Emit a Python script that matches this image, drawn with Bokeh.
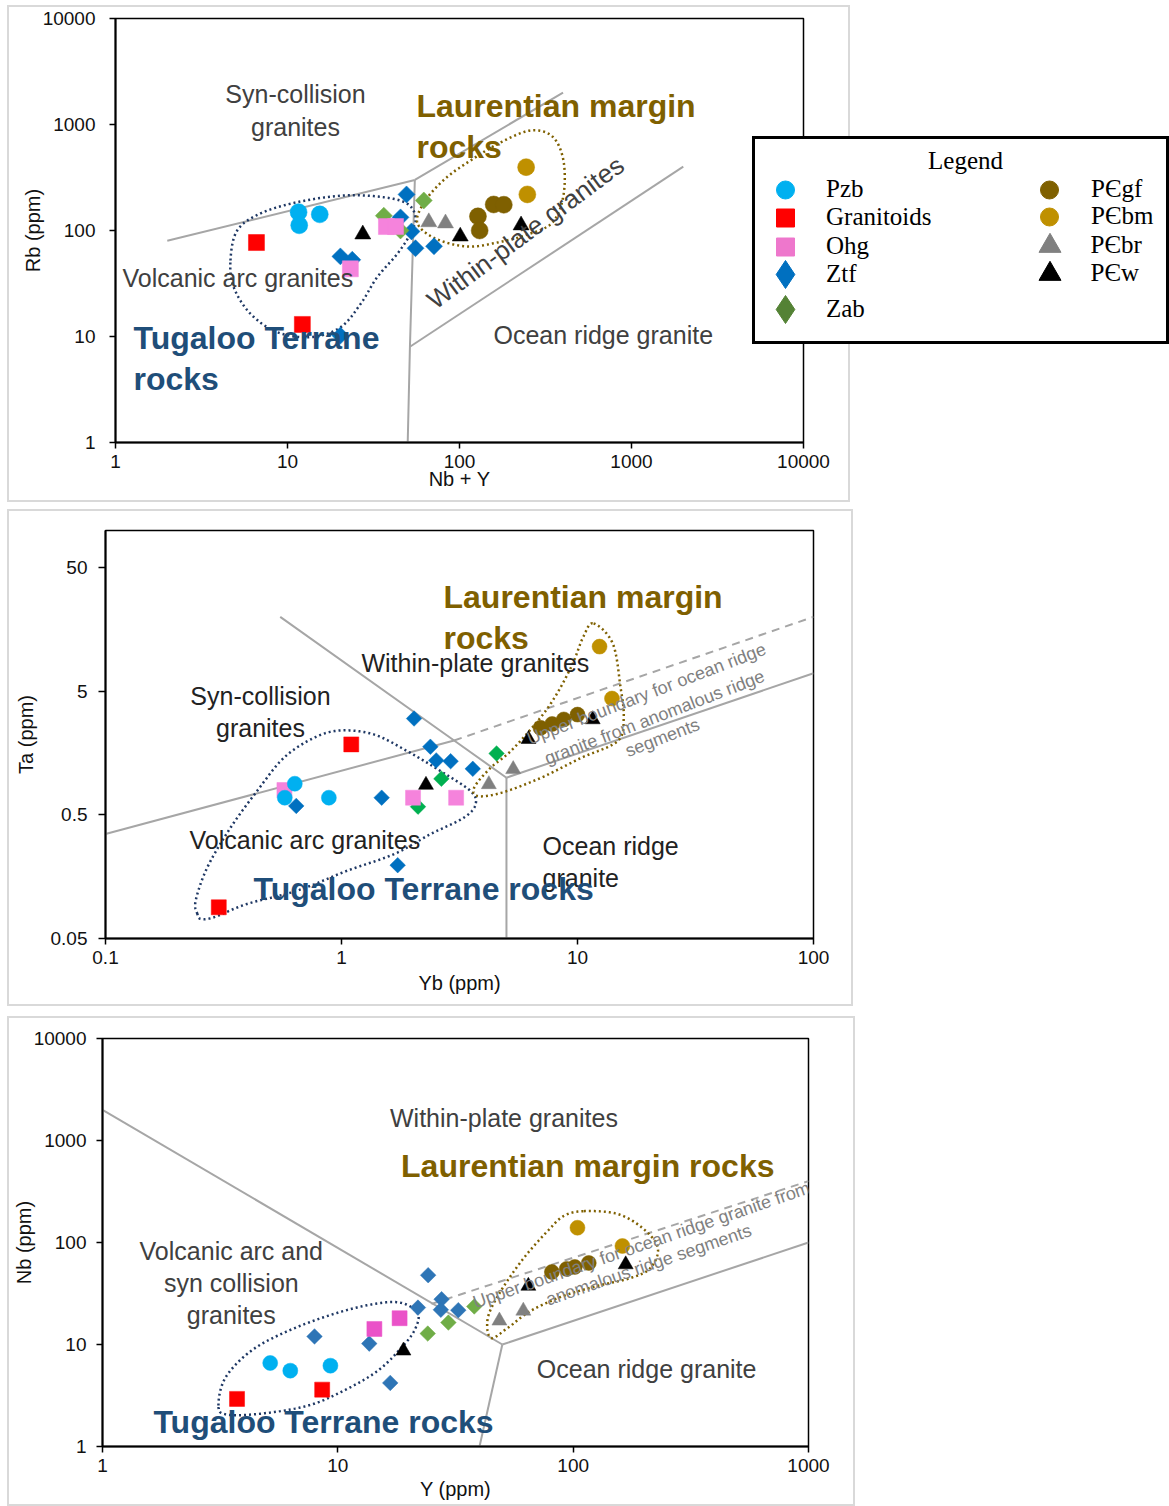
import numpy as np
from bokeh.plotting import figure
from bokeh.models import Range1d, FixedTicker, Label, Legend, LegendItem
from bokeh.core.properties import value
from bokeh.embed import file_html
from bokeh.resources import INLINE

# ---------------- data ----------------
SERIES = ["Pzb", "Granitoids", "Ohg", "Ztf", "Zab", "PЄgf", "PЄbm", "PЄbr", "PЄw"]

# Panel 1 : Rb (ppm) vs Nb + Y
P1_PZB_X = [11.6, 15.4, 11.7]
P1_PZB_Y = [149, 142, 112]
P1_GRAN_X = [6.6, 12.2]
P1_GRAN_Y = [77, 13]
P1_OHG_X = [37.6, 42.5, 23.2]
P1_OHG_Y = [109, 109, 43.5]
P1_ZTF_X = [49.2, 45.4, 52.6, 20.3, 23.8, 55.5, 71.1, 20.3]
P1_ZTF_Y = [219, 133, 98, 57, 53, 68, 71, 10.2]
P1_ZAB_X = [36.3, 62.0, 45.4]
P1_ZAB_Y = [138, 192, 100]
P1_GF_X = [128, 131, 158, 181]
P1_GF_Y = [136, 100, 176, 175]
P1_BM_X = [244, 248]
P1_BM_Y = [396, 219]
P1_BR_X = [66.3, 82.9]
P1_BR_Y = [120, 117]
P1_W_X = [27.4, 101, 228]
P1_W_Y = [92, 88, 112]

# Panel 2 : Ta (ppm) vs Yb (ppm)
P2_PZB_X = [0.634, 0.575, 0.884]
P2_PZB_Y = [0.894, 0.689, 0.689]
P2_GRAN_X = [1.10, 0.302]
P2_GRAN_Y = [1.86, 0.0894]
P2_OHG_X = [0.573, 2.01, 3.06]
P2_OHG_Y = [0.795, 0.689, 0.689]
P2_ZTF_X = [2.03, 2.38, 2.52, 2.90, 3.60, 1.48, 0.643, 1.73]
P2_ZTF_Y = [3.01, 1.78, 1.38, 1.36, 1.18, 0.689, 0.591, 0.196]
P2_ZAB_X = [4.54, 2.65, 2.11]
P2_ZAB_Y = [1.57, 0.98, 0.583]
P2_GF_X = [6.97, 7.81, 8.75, 10.0]
P2_GF_Y = [2.53, 2.72, 2.96, 3.24]
P2_BM_X = [12.4, 14.0]
P2_BM_Y = [11.5, 4.37]
P2_BR_X = [4.21, 5.34]
P2_BR_Y = [0.884, 1.17]
P2_W_X = [2.28, 6.20, 11.6]
P2_W_Y = [0.873, 2.05, 2.96]

# Panel 3 : Nb (ppm) vs Y (ppm)
P3_PZB_X = [5.16, 6.28, 9.30]
P3_PZB_Y = [6.59, 5.54, 6.20]
P3_GRAN_X = [3.73, 8.58]
P3_GRAN_Y = [2.93, 3.61]
P3_OHG_X = [14.3, 18.3]
P3_OHG_Y = [14.2, 18.1]
P3_ZTF_X = [24.2, 27.6, 21.9, 27.4, 32.5, 7.96, 13.6, 16.7]
P3_ZTF_Y = [47.8, 27.8, 23.0, 21.9, 21.7, 12.0, 10.2, 4.20]
P3_ZAB_X = [38.0, 29.5, 24.1]
P3_ZAB_Y = [23.6, 16.4, 12.8]
P3_GF_X = [81.2, 93.9, 101.6, 116.5]
P3_GF_Y = [51.4, 55.1, 57.6, 63.0]
P3_BM_X = [104.3, 161.9]
P3_BM_Y = [139.6, 92.4]
P3_BR_X = [48.6, 61.4]
P3_BR_Y = [17.1, 21.4]
P3_W_X = [19.0, 64.5, 167.2]
P3_W_Y = [8.69, 37.5, 60.9]

# tick values / labels
P1_TICKS = [1, 10, 100, 1000, 10000]
P1_TICK_LABELS = ["1", "10", "100", "1000", "10000"]
P2_XTICKS = [0.1, 1, 10, 100]
P2_XTICK_LABELS = ["0.1", "1", "10", "100"]
P2_YTICKS = [0.05, 0.5, 5, 50]
P2_YTICK_LABELS = ["0.05", "0.5", "5", "50"]
P3_XTICKS = [1, 10, 100, 1000]
P3_XTICK_LABELS = ["1", "10", "100", "1000"]
P3_YTICKS = [1, 10, 100, 1000, 10000]
P3_YTICK_LABELS = ["1", "10", "100", "1000", "10000"]

# discrimination-diagram boundaries (Pearce et al.), data coordinates
P1_BOUNDS = [([2, 55], [80, 300]), ([55, 400], [300, 2000]),
             ([55, 51.5, 50], [300, 8, 1]), ([51.5, 2000], [8, 400])]
P2_BOUNDS = [([0.55, 3, 5], [20, 2, 1]), ([0.1, 3], [0.35, 2]),
             ([5, 100], [1, 7]), ([5, 5], [0.05, 1])]
P2_DASH = ([3, 100], [2, 20])
P3_BOUNDS = [([1, 50], [2000, 10]), ([50, 1000], [10, 100]), ([50, 40], [10, 1])]
P3_DASH = ([25, 1000], [25, 400])

# hand-drawn dotted outlines (control points, data coordinates)
P1_TUG = ([4.66, 5.10, 6.97, 11.4, 21.2, 36.2, 49.7, 55.5, 51.9, 43.5, 33.2, 26.6, 20.3, 13.6, 8.71, 6.09, 4.87],
          [52.1, 100, 145, 185, 214, 206, 179, 133, 93.7, 60.3, 36.2, 20.3, 12.2, 9.85, 11.0, 16.4, 29.2])
P1_LAU = ([56.8, 63.4, 82.9, 116, 173, 259, 347, 402, 402, 347, 249, 166, 111, 72.5],
          [119, 192, 310, 458, 676, 878, 770, 458, 214, 119, 91.7, 77.1, 70.6, 84])
P2_TUG = ([0.245, 0.241, 0.270, 0.339, 0.439, 0.570, 0.763, 0.990, 1.37, 1.90, 2.63, 3.52, 3.70, 3.30,
           2.38, 1.67, 1.06, 0.649, 0.398, 0.288, 0.253],
          [0.0791, 0.101, 0.188, 0.395, 0.781, 1.45, 2.10, 2.41, 2.24, 1.64, 1.13, 0.781, 0.610, 0.475,
           0.349, 0.241, 0.177, 0.122, 0.0952, 0.0743, 0.0721])
P2_LAU = ([11.7, 14.1, 15.2, 15.7, 14.8, 10.3, 6.97, 4.72, 3.77, 3.66, 4.28, 5.36, 7.46, 9.34, 10.6],
          [17.7, 12.2, 5.48, 3.08, 1.98, 1.44, 0.994, 0.752, 0.711, 0.841, 1.20, 1.73, 3.64, 7.66, 13.9])
P3_TUG = ([3.11, 3.33, 4.29, 6.15, 9.65, 14.3, 18.6, 21.9, 21.1, 18.6, 14.8, 10.6, 7.48, 4.73, 3.36],
          [2.52, 4.73, 8.69, 13.6, 20.0, 25.0, 25.6, 20.0, 13.6, 9.29, 5.54, 3.53, 2.52, 2.10, 2.06])
P3_LAU = ([111, 155, 199, 229, 213, 176, 127, 91.2, 66.1, 52.8, 44.7, 43.4, 49.3, 61.7, 78.0, 91.2],
          [203, 190, 136, 88.3, 56.3, 45.0, 37.5, 30.0, 21.4, 14.6, 11.6, 18.3, 33.5, 70.5, 130, 182])

# ---------------- styles ----------------
MARKER = {"Pzb": "circle", "Granitoids": "square", "Ohg": "square", "Ztf": "square", "Zab": "square",
          "PЄgf": "circle", "PЄbm": "circle", "PЄbr": "triangle", "PЄw": "triangle"}
LEGEND_MARKER = dict(MARKER, Ztf="diamond", Zab="diamond")
BASE_COLOR = {"Pzb": "#00B0F0", "Granitoids": "#FF0000", "Ohg": "#F583DC", "Ztf": "#0070C0",
              "Zab": "#70AD47", "PЄgf": "#7F6000", "PЄbm": "#BF9000", "PЄbr": "#808080", "PЄw": "#000000"}
P2_COLOR = dict(BASE_COLOR, Zab="#00B050")
P3_COLOR = dict(BASE_COLOR, Ztf="#2E75B6", Ohg="#EA52C8")
LEGEND_COLOR = dict(BASE_COLOR, Ohg="#EE77CC", Zab="#548235")
DIAMONDS = {"Ztf", "Zab"}
DRAW_ORDER = ["Ztf", "Zab", "Granitoids", "Ohg", "Pzb", "PЄbr", "PЄgf", "PЄbm", "PЄw"]
SANS = "Liberation Sans"
SERIF = "Liberation Serif"
GREY_LINE = "#A6A6A6"
REGION = "#404040"
LAUR = "#7F6000"
TUG = "#1F4E79"
PANEL_BOX = "2px solid #D9D9D9"


def make_fig(width, height, left, right, top, bottom, xr, yr, margin):
    p = figure(width=width, height=height, x_axis_type="log", y_axis_type="log",
               x_range=Range1d(*xr), y_range=Range1d(*yr), output_backend="svg",
               toolbar_location=None, min_border_left=left, min_border_right=right,
               min_border_top=top, min_border_bottom=bottom, margin=margin,
               styles={"outline": PANEL_BOX})
    p.xgrid.visible = False
    p.ygrid.visible = False
    p.background_fill_color = "white"
    p.border_fill_color = "white"
    p.outline_line_color = "black"
    p.outline_line_width = 1.5
    for ax in (p.xaxis[0], p.yaxis[0]):
        ax.axis_line_color = "black"
        ax.axis_line_width = 2
        ax.major_tick_in = 0
        ax.major_tick_out = 6
        ax.major_tick_line_width = 1.5
        ax.major_tick_line_color = "black"
        ax.minor_tick_line_color = None
        ax.major_label_text_font = SANS
        ax.major_label_text_font_size = "19px"
        ax.major_label_text_color = "#111111"
        ax.axis_label_text_font = SANS
        ax.axis_label_text_font_size = "20px"
        ax.axis_label_text_font_style = "normal"
        ax.axis_label_text_color = "#111111"
    return p


def set_ticks(axis, ticks, labels):
    axis.ticker = FixedTicker(ticks=ticks)
    axis.major_label_overrides = {t: l for t, l in zip(ticks, labels)}


def closed_spline(xs, ys, n=24):
    lx, ly = np.log10(xs), np.log10(ys)
    N = len(lx)
    ox, oy = [], []
    for i in range(N):
        p0, p1, p2, p3 = (i - 1) % N, i, (i + 1) % N, (i + 2) % N
        for t in np.linspace(0, 1, n, endpoint=False):
            t2, t3 = t * t, t * t * t
            for arr, out in ((lx, ox), (ly, oy)):
                out.append(0.5 * (2 * arr[p1] + (-arr[p0] + arr[p2]) * t
                                  + (2 * arr[p0] - 5 * arr[p1] + 4 * arr[p2] - arr[p3]) * t2
                                  + (-arr[p0] + 3 * arr[p1] - 3 * arr[p2] + arr[p3]) * t3))
    ox.append(ox[0])
    oy.append(oy[0])
    return 10 ** np.array(ox), 10 ** np.array(oy)


def outline(p, pts, color):
    sx, sy = closed_spline(*pts)
    p.line(sx, sy, line_color=color, line_width=2.5, line_dash="2 3")


def bounds(p, lines, dash=None):
    for xs, ys in lines:
        p.line(xs, ys, line_color=GREY_LINE, line_width=2)
    if dash is not None:
        p.line(dash[0], dash[1], line_color=GREY_LINE, line_width=2, line_dash="8 6")


def txt(p, x, y, text, size, color, bold=False, align="left", angle=0.0, font=SANS):
    p.add_layout(Label(x=x, y=y, text=text, text_font=font, text_font_size=f"{size}px",
                       text_color=color, text_font_style="bold" if bold else "normal",
                       text_align=align, text_baseline="middle", angle=angle, angle_units="deg"))


def points(p, data, sizes, colors):
    rends = {}
    for s in DRAW_ORDER:
        xs, ys = data[s]
        marker = MARKER[s]
        if s in DIAMONDS:
            size, ang = sizes["diamond"], np.pi / 4
        else:
            size, ang = sizes[marker], 0.0
        rends[s] = p.scatter(xs, ys, marker=marker, size=size, angle=ang,
                             fill_color=colors[s], line_color=colors[s], line_width=0.5)
    return rends


P1_DATA = {"Pzb": (P1_PZB_X, P1_PZB_Y), "Granitoids": (P1_GRAN_X, P1_GRAN_Y), "Ohg": (P1_OHG_X, P1_OHG_Y),
           "Ztf": (P1_ZTF_X, P1_ZTF_Y), "Zab": (P1_ZAB_X, P1_ZAB_Y), "PЄgf": (P1_GF_X, P1_GF_Y),
           "PЄbm": (P1_BM_X, P1_BM_Y), "PЄbr": (P1_BR_X, P1_BR_Y), "PЄw": (P1_W_X, P1_W_Y)}
P2_DATA = {"Pzb": (P2_PZB_X, P2_PZB_Y), "Granitoids": (P2_GRAN_X, P2_GRAN_Y), "Ohg": (P2_OHG_X, P2_OHG_Y),
           "Ztf": (P2_ZTF_X, P2_ZTF_Y), "Zab": (P2_ZAB_X, P2_ZAB_Y), "PЄgf": (P2_GF_X, P2_GF_Y),
           "PЄbm": (P2_BM_X, P2_BM_Y), "PЄbr": (P2_BR_X, P2_BR_Y), "PЄw": (P2_W_X, P2_W_Y)}
P3_DATA = {"Pzb": (P3_PZB_X, P3_PZB_Y), "Granitoids": (P3_GRAN_X, P3_GRAN_Y), "Ohg": (P3_OHG_X, P3_OHG_Y),
           "Ztf": (P3_ZTF_X, P3_ZTF_Y), "Zab": (P3_ZAB_X, P3_ZAB_Y), "PЄgf": (P3_GF_X, P3_GF_Y),
           "PЄbm": (P3_BM_X, P3_BM_Y), "PЄbr": (P3_BR_X, P3_BR_Y), "PЄw": (P3_W_X, P3_W_Y)}

# ---------------- panel 1 ----------------
p1 = make_fig(839, 493, 106, 45, 11, 58, (1, 10000), (1, 10000), (7, 0, 0, 9))
set_ticks(p1.xaxis[0], P1_TICKS, P1_TICK_LABELS)
set_ticks(p1.yaxis[0], P1_TICKS, P1_TICK_LABELS)
p1.xaxis.axis_label = "Nb + Y"
p1.yaxis.axis_label = "Rb (ppm)"
p1.xaxis.major_label_standoff = 6
p1.xaxis.axis_label_standoff = -3
p1.yaxis.major_label_standoff = 14
p1.yaxis.axis_label_standoff = -4
bounds(p1, P1_BOUNDS)
outline(p1, P1_TUG, "#1F3864")
outline(p1, P1_LAU, LAUR)
points(p1, P1_DATA, {"circle": 17, "square": 16, "diamond": 12, "triangle": 16}, BASE_COLOR)
txt(p1, 11.13, 1919, "Syn-collision", 25, REGION, align="center")
txt(p1, 11.13, 957, "granites", 25, REGION, align="center")
txt(p1, 56.2, 1479, "Laurentian margin", 32, LAUR, bold=True)
txt(p1, 56.2, 607, "rocks", 32, LAUR, bold=True)
txt(p1, 1.098, 36.0, "Volcanic arc granites", 25, REGION)
txt(p1, 1.272, 9.58, "Tugaloo Terrane", 32, TUG, bold=True)
txt(p1, 1.272, 3.93, "rocks", 32, TUG, bold=True)
txt(p1, 157.6, 10.44, "Ocean ridge granite", 25, REGION)
txt(p1, 242, 95.7, "Within-plate granites", 26, REGION, align="center", angle=36.5)

# ---------------- panel 2 ----------------
p2 = make_fig(842, 493, 96, 38, 19, 66, (0.1, 100), (0.05, 100), (11, 0, 0, 9))
set_ticks(p2.xaxis[0], P2_XTICKS, P2_XTICK_LABELS)
set_ticks(p2.yaxis[0], P2_YTICKS, P2_YTICK_LABELS)
p2.xaxis.axis_label = "Yb (ppm)"
p2.yaxis.axis_label = "Ta (ppm)"
p2.xaxis.major_label_standoff = 6
p2.xaxis.axis_label_standoff = 5
p2.yaxis.major_tick_out = 7
p2.yaxis.major_label_standoff = 11
p2.yaxis.axis_label_standoff = 11
bounds(p2, P2_BOUNDS, P2_DASH)
outline(p2, P2_TUG, "#1F3864")
outline(p2, P2_LAU, LAUR)
points(p2, P2_DATA, {"circle": 15, "square": 15, "diamond": 11, "triangle": 15}, P2_COLOR)
txt(p2, 2.705, 29.2, "Laurentian margin", 32, LAUR, bold=True)
txt(p2, 2.705, 13.62, "rocks", 32, LAUR, bold=True)
txt(p2, 1.215, 8.41, "Within-plate granites", 25, "#222222")
txt(p2, 0.4537, 4.56, "Syn-collision", 25, "#222222", align="center")
txt(p2, 0.4537, 2.51, "granites", 25, "#222222", align="center")
txt(p2, 0.227, 0.314, "Volcanic arc granites", 25, "#222222")
txt(p2, 7.11, 0.281, "Ocean ridge", 25, "#222222")
txt(p2, 7.11, 0.155, "granite", 25, "#222222")
txt(p2, 0.4238, 0.1265, "Tugaloo Terrane rocks", 32, TUG, bold=True)
txt(p2, 19.6, 4.77, "Upper boundary for ocean ridge", 18, "#808080", align="center", angle=21)
txt(p2, 21.2, 3.08, "granite from anomalous ridge", 18, "#808080", align="center", angle=21)
txt(p2, 22.9, 2.11, "segments", 18, "#808080", align="center", angle=21)

# ---------------- panel 3 ----------------
p3 = make_fig(844, 486, 92, 45, 20, 58, (1, 1000), (1, 10000), (14, 0, 0, 9))
set_ticks(p3.xaxis[0], P3_XTICKS, P3_XTICK_LABELS)
set_ticks(p3.yaxis[0], P3_YTICKS, P3_YTICK_LABELS)
p3.xaxis.axis_label = "Y (ppm)"
p3.yaxis.axis_label = "Nb (ppm)"
p3.xaxis.major_label_standoff = 6
p3.xaxis.axis_label_standoff = 3
p3.yaxis.major_label_standoff = 10
p3.yaxis.axis_label_standoff = -4
bounds(p3, P3_BOUNDS, P3_DASH)
outline(p3, P3_TUG, "#1F3864")
outline(p3, P3_LAU, LAUR)
points(p3, P3_DATA, {"circle": 15, "square": 15, "diamond": 11, "triangle": 15}, P3_COLOR)
txt(p3, 50.8, 1651, "Within-plate granites", 25, REGION, align="center")
txt(p3, 18.56, 560, "Laurentian margin rocks", 32, LAUR, bold=True)
txt(p3, 3.526, 82.6, "Volcanic arc and", 25, REGION, align="center")
txt(p3, 3.526, 40.2, "syn collision", 25, REGION, align="center")
txt(p3, 3.526, 19.54, "granites", 25, REGION, align="center")
txt(p3, 70.1, 5.79, "Ocean ridge granite", 25, REGION)
txt(p3, 1.646, 1.756, "Tugaloo Terrane rocks", 32, TUG, bold=True)
txt(p3, 195.0, 94.5, "Upper boundary for ocean ridge granite from", 18, "#808080", align="center", angle=19)
txt(p3, 209.3, 60.3, "anomalous ridge segments", 18, "#808080", align="center", angle=19)

# ---------------- legend (its own small canvas, placed over panel 1) ----------------
lg = figure(width=417, height=208, x_range=Range1d(-1000, -583), y_range=Range1d(-1000, -792),
            output_backend="svg", toolbar_location=None, x_axis_location=None, y_axis_location=None,
            min_border=0, min_border_left=0, min_border_right=0, min_border_top=0, min_border_bottom=0,
            styles={"position": "absolute", "left": "752px", "top": "136px"})
lg.xgrid.visible = False
lg.ygrid.visible = False
lg.outline_line_color = "black"
lg.outline_line_width = 5
lg.background_fill_color = "white"
lg.border_fill_color = "white"
lg_r = {}
for s in SERIES:
    xs, ys = P1_DATA[s]
    lg_r[s] = lg.scatter(xs, ys, marker=LEGEND_MARKER[s], size=10,
                         fill_color=LEGEND_COLOR[s], line_color=LEGEND_COLOR[s])
lg.add_layout(Label(x=-787, y=-816, text="Legend", text_font=SERIF, text_font_size="25px",
                    text_color="black", text_align="center", text_baseline="middle"))
# legend glyph box (w, h) per marker: Bokeh draws the marker at 0.4 * min(w, h)
LEGEND_GLYPH = {"circle": (50, 45), "square": (50, 45), "diamond": (70, 70), "triangle": (55, 55)}
LEFT_ITEMS = ["Pzb", "Granitoids", "Ohg", "Ztf", "Zab"]
LEFT_ROWS = [189, 217, 246, 274, 309]
RIGHT_ITEMS = ["PЄgf", "PЄbm", "PЄbr", "PЄw"]
RIGHT_ROWS = [189, 216, 245, 273]
for items, rows, cx, lx in ((LEFT_ITEMS, LEFT_ROWS, 785, 826), (RIGHT_ITEMS, RIGHT_ROWS, 1049, 1091)):
    for s, row in zip(items, rows):
        gw, gh = LEGEND_GLYPH[LEGEND_MARKER[s]]
        leg = Legend(items=[LegendItem(label=value(s), renderers=[lg_r[s]])],
                     location=(cx - gw / 2 - 752, 344 - (row + gh / 2)), orientation="vertical",
                     glyph_width=gw, glyph_height=gh, label_height=gh, spacing=0, padding=0,
                     margin=0, label_standoff=int(lx - (cx + gw / 2)), background_fill_alpha=0,
                     border_line_color=None, label_text_font=SERIF, label_text_font_size="25px",
                     label_text_color="black", label_text_baseline="middle")
        lg.add_layout(leg)

open("out.html", "w").write(file_html([p1, p2, p3, lg], INLINE))
